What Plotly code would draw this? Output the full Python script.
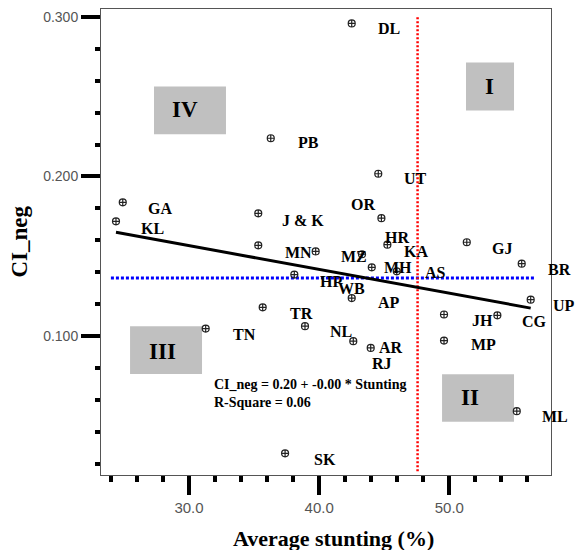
import plotly.graph_objects as go

# ---- data ----
states = ["DL", "PB", "UT", "OR", "GA", "KL", "J & K", "MN", "MZ", "HR", "KA", "MH", "AS", "HP",
          "WB", "TR", "NL", "AR", "RJ", "TN", "SK", "JH", "MP", "CG", "UP", "BR", "GJ", "ML"]
stunting = [42.50, 36.28, 44.54, 44.78, 24.91, 24.39, 35.32, 35.32, 39.73, 45.24, 43.29, 44.04, 45.96, 38.09,
            42.50, 35.66, 38.91, 42.62, 43.96, 31.28, 37.38, 49.59, 49.59, 53.69, 56.25, 55.56, 51.34, 55.18]
ci_neg = [0.2958, 0.2239, 0.2017, 0.1739, 0.1838, 0.1719, 0.1769, 0.1569, 0.1531, 0.1573, 0.1513, 0.1431, 0.1406, 0.1386,
          0.1239, 0.1181, 0.1063, 0.0969, 0.0927, 0.1048, 0.0267, 0.1136, 0.0973, 0.1131, 0.1229, 0.1454, 0.1588, 0.0531]

# point-label texts and where they sit (data units)
label_text = ["DL", "PB", "UT", "OR", "GA", "KL", "J & K", "MN", "MZ", "HR", "KA", "MH", "AS", "HP",
              "WB", "AP", "TR", "NL", "AR", "RJ", "TN", "SK", "JH", "CG", "UP", "BR", "MP", "GJ", "ML"]
label_x = [45.38, 39.20, 47.42, 43.39, 27.79, 27.18, 38.76, 38.40, 42.68, 45.96, 47.42, 46.06, 48.90, 40.93,
           42.50, 45.34, 38.64, 41.68, 45.50, 44.81, 34.25, 40.43, 52.54, 56.56, 58.80, 58.43, 52.61, 54.07, 58.12]
label_y = [0.2923, 0.2213, 0.1989, 0.1823, 0.1798, 0.1673, 0.1725, 0.1527, 0.1496, 0.1621, 0.1531, 0.1431, 0.1396, 0.1344,
           0.1298, 0.1208, 0.1144, 0.1027, 0.0927, 0.0829, 0.1011, 0.0229, 0.1098, 0.1089, 0.1192, 0.1417, 0.0946, 0.1548, 0.0500]

# regression fit
fit_intercept = 0.2014
fit_slope = -0.00149

# reference (mean) lines
stunting_ref = 47.56
stunting_ref_span = [0.0155, 0.300]
ci_ref = 0.1364
ci_ref_span = [24.0, 56.6]

# quadrant boxes: name, x0, x1, y0, y1, text x, text y
quad_names = ["IV", "I", "III", "II"]
quad_x0 = [27.31, 51.28, 25.47, 49.44]
quad_x1 = [32.84, 54.97, 31.00, 54.97]
quad_y0 = [0.2264, 0.24125, 0.0764, 0.0464]
quad_y1 = [0.25625, 0.27125, 0.10625, 0.07625]
quad_tx = [29.69, 53.05, 27.98, 51.59]
quad_ty = [0.2419, 0.25625, 0.0906, 0.0614]

x_range = [23.238, 57.81]
y_range = [0.01313, 0.30481]

serif = "Liberation Serif"
sans = "Liberation Sans"


def to_paper_x(v):
    # labels may lie beyond the x range (UP, BR, ML); paper refs keep them visible
    return (v - x_range[0]) / (x_range[1] - x_range[0])


fig = go.Figure()

# blue horizontal reference
fig.add_trace(go.Scatter(x=ci_ref_span, y=[ci_ref, ci_ref], mode="lines",
                         line=dict(color="#0000FF", width=3, dash="3px,2px"),
                         hoverinfo="skip", showlegend=False))
# red vertical reference
fig.add_trace(go.Scatter(x=[stunting_ref, stunting_ref], y=stunting_ref_span, mode="lines",
                         line=dict(color="#FF0000", width=2.5, dash="2px,2px"),
                         hoverinfo="skip", showlegend=False))
# regression line
xmin, xmax = min(stunting), max(stunting)
fig.add_trace(go.Scatter(x=[xmin, xmax],
                         y=[fit_intercept + fit_slope * xmin, fit_intercept + fit_slope * xmax],
                         mode="lines", line=dict(color="black", width=3),
                         hoverinfo="skip", showlegend=False))
# points
fig.add_trace(go.Scatter(x=stunting, y=ci_neg, mode="markers", text=states,
                         marker=dict(symbol="circle-cross-open", size=7, color="#222222",
                                     line=dict(width=1.2, color="#222222")),
                         showlegend=False, cliponaxis=False))

shapes = []
annotations = []
for n, x0, x1, y0, y1, tx, ty in zip(quad_names, quad_x0, quad_x1, quad_y0, quad_y1, quad_tx, quad_ty):
    shapes.append(dict(type="rect", xref="x", yref="y", x0=x0, x1=x1, y0=y0, y1=y1,
                       fillcolor="#C0C0C0", line=dict(width=0), layer="below"))
    annotations.append(dict(x=tx, y=ty, xref="x", yref="y", text="<b>%s</b>" % n, showarrow=False,
                            font=dict(family=serif, size=23, color="black"),
                            xanchor="center", yanchor="middle"))

for t, lx, ly in zip(label_text, label_x, label_y):
    annotations.append(dict(x=to_paper_x(lx), y=ly, xref="paper", yref="y", text="<b>%s</b>" % t,
                            showarrow=False, font=dict(family=serif, size=16, color="black"),
                            xanchor="center", yanchor="middle"))

annotations.append(dict(x=31.77, y=0.0644, xref="x", yref="y",
                        text="<b>CI_neg = 0.20 + -0.00 * Stunting<br>R-Square = 0.06</b>",
                        showarrow=False, align="left", xanchor="left", yanchor="middle",
                        font=dict(family=serif, size=14, color="black")))

# axis titles
annotations.append(dict(x=0.516, y=-0.137, xref="paper", yref="paper",
                        text="<b>Average stunting (%)</b>", showarrow=False,
                        font=dict(family=serif, size=22, color="black"),
                        xanchor="center", yanchor="middle"))
annotations.append(dict(x=-0.18, y=0.501, xref="paper", yref="paper",
                        text="<b>CI_neg</b>", showarrow=False, textangle=-90,
                        font=dict(family=serif, size=23, color="black"),
                        xanchor="center", yanchor="middle"))

fig.update_layout(
    width=576, height=542,
    margin=dict(l=93, r=33, t=1, b=75),
    paper_bgcolor="white", plot_bgcolor="white",
    shapes=shapes, annotations=annotations,
    xaxis=dict(range=x_range, tickmode="array", tickvals=[30, 40, 50], ticktext=["30.0", "40.0", "50.0"],
               ticks="outside", ticklen=19, tickwidth=4, tickcolor="black",
               minor=dict(dtick=2, tick0=0, ticks="outside", ticklen=6, tickwidth=4, tickcolor="black", showgrid=False),
               showline=True, linecolor="#555555", linewidth=1, mirror=True,
               showgrid=False, zeroline=False, automargin=False, ticklabeloverflow="allow",
               tickfont=dict(family=sans, size=15, color="#555555")),
    yaxis=dict(range=y_range, tickmode="array", tickvals=[0.1, 0.2, 0.3], ticktext=["0.100", "0.200", "0.300"],
               ticks="outside", ticklen=19, tickwidth=4, tickcolor="black",
               minor=dict(dtick=0.02, tick0=0, ticks="outside", ticklen=5, tickwidth=4, tickcolor="black", showgrid=False),
               showline=True, linecolor="#555555", linewidth=1, mirror=True,
               showgrid=False, zeroline=False, automargin=False, ticklabeloverflow="allow",
               tickfont=dict(family=sans, size=14, color="#555555")),
)

fig.write_html("out.html")
